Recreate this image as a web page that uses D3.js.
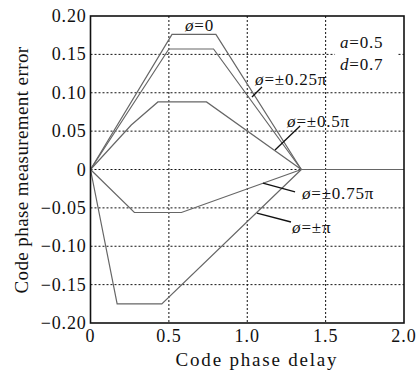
<!DOCTYPE html>
<html>
<head>
<meta charset="utf-8">
<script src="https://cdn.jsdelivr.net/npm/d3@7"></script>
<style>
  body { margin: 0; background: #fff; }
  text { font-family: "Liberation Serif", "DejaVu Serif", serif; fill: #111; }
</style>
</head>
<body>
<svg id="chart" width="420" height="372"></svg>
<script>
// tick values
var x_ticks = [0, 0.5, 1.0, 1.5, 2.0]
var x_tick_labels = ["0", "0.5", "1.0", "1.5", "2.0"]
var y_ticks = [-0.20, -0.15, -0.10, -0.05, 0, 0.05, 0.10, 0.15, 0.20]
var y_tick_labels = ["\u22120.20", "\u22120.15", "\u22120.10", "\u22120.05", "0", "0.05", "0.10", "0.15", "0.20"]

// curves (code phase delay -> error)
var phi0_x = [0, 0.52, 0.80, 1.345]
var phi0_y = [0, 0.176, 0.176, 0]
var phi025_x = [0, 0.50, 0.785, 1.345]
var phi025_y = [0, 0.157, 0.157, 0]
var phi05_x = [0, 0.26, 0.43, 0.74, 1.345]
var phi05_y = [0, 0.058, 0.088, 0.088, 0]
var phi075_x = [0, 0.28, 0.58, 1.345]
var phi075_y = [0, -0.056, -0.056, 0]
var phipi_x = [0, 0.17, 0.455, 1.345]
var phipi_y = [0, -0.175, -0.175, 0]
var tail_x = [1.345, 2.0]
var tail_y = [0, 0]

var series = [
    [phi0_x, phi0_y], [phi025_x, phi025_y], [phi05_x, phi05_y],
    [phi075_x, phi075_y], [phipi_x, phipi_y], [tail_x, tail_y]
]

// labels: text, position, leader start/end (data units)
var label_text = ["0", "\u00b10.25\u03c0", "\u00b10.5\u03c0", "\u00b10.75\u03c0", "\u00b1\u03c0"]
var label_pos = [[0.603, 0.181], [1.05, 0.110], [1.254, 0.0554], [1.349, -0.0384], [1.286, -0.0827]]
var leaders = [null,
    [[1.030, 0.0945], [1.094, 0.1075]],
    [[1.177, 0.0254], [1.337, 0.0567]],
    [[1.100, -0.0176], [1.305, -0.0293]],
    [[1.062, -0.0567], [1.279, -0.0684]]]

var svg = d3.select("#chart")
var p_left = 90.5, p_right = 404, p_top = 16, p_bottom = 323

var xScale = d3.scaleLinear().domain([0, 2]).range([p_left, p_right])
var yScale = d3.scaleLinear().domain([-0.2, 0.2]).range([p_bottom, p_top])

// grid
var grid = svg.append("g")
grid.selectAll(".gx").data(x_ticks.slice(1, -1)).enter().append("line")
    .attr("x1", d => xScale(d)).attr("x2", d => xScale(d))
    .attr("y1", p_top).attr("y2", p_bottom)
    .attr("stroke", "#111").attr("stroke-width", 1).attr("stroke-dasharray", "2,2")
grid.selectAll(".gy").data(y_ticks.slice(1, -1)).enter().append("line")
    .attr("x1", p_left).attr("x2", p_right)
    .attr("y1", d => yScale(d)).attr("y2", d => yScale(d))
    .attr("stroke", "#111").attr("stroke-width", 1).attr("stroke-dasharray", "2,2")

// white box behind the parameter note
svg.append("rect")
    .attr("x", xScale(1.56)).attr("y", yScale(0.174))
    .attr("width", xScale(1.96) - xScale(1.56)).attr("height", yScale(0.124) - yScale(0.174))
    .attr("fill", "#fff")

// curves
var line = d3.line().x(d => xScale(d[0])).y(d => yScale(d[1]))
for (var i = 0; i < series.length; i++) {
    var pts = series[i][0].map((x, j) => [x, series[i][1][j]])
    svg.append("path")
        .attr("d", line(pts))
        .attr("fill", "none")
        .attr("stroke", "#666")
        .attr("stroke-width", 1.2)
}

// frame
svg.append("rect")
    .attr("x", p_left).attr("y", p_top)
    .attr("width", p_right - p_left).attr("height", p_bottom - p_top)
    .attr("fill", "none").attr("stroke", "#111").attr("stroke-width", 1.6)

// tick labels
svg.selectAll(".xt").data(x_ticks).enter().append("text")
    .attr("x", d => xScale(d)).attr("y", p_bottom + 19)
    .attr("text-anchor", "middle")
    .style("font-size", "18px").style("letter-spacing", "1px")
    .text((d, i) => x_tick_labels[i])
svg.selectAll(".yt").data(y_ticks).enter().append("text")
    .attr("x", p_left - 4).attr("y", d => yScale(d) + 6)
    .attr("text-anchor", "end")
    .style("font-size", "18px").style("letter-spacing", "0.8px")
    .text((d, i) => y_tick_labels[i])

// axis titles
svg.append("text")
    .attr("x", 257).attr("y", 366)
    .attr("text-anchor", "middle")
    .style("font-size", "19px").style("letter-spacing", "1.8px")
    .text("Code phase delay")
svg.append("text")
    .attr("transform", "translate(28,170) rotate(-90)")
    .attr("text-anchor", "middle")
    .style("font-size", "19px").style("letter-spacing", "0.4px")
    .text("Code phase measurement error")

// curve labels
for (var i = 0; i < label_text.length; i++) {
    var t = svg.append("text")
        .attr("x", xScale(label_pos[i][0])).attr("y", yScale(label_pos[i][1]))
        .style("font-size", "17px").style("letter-spacing", "0.8px")
    t.append("tspan").style("font-style", "italic").text("\u00f8")
    t.append("tspan").text("=" + label_text[i])
    if (leaders[i]) {
        svg.append("line")
            .attr("x1", xScale(leaders[i][0][0])).attr("y1", yScale(leaders[i][0][1]))
            .attr("x2", xScale(leaders[i][1][0])).attr("y2", yScale(leaders[i][1][1]))
            .attr("stroke", "#111").attr("stroke-width", 1.3)
    }
}

// parameter note
var note = [["a", "0.5", 0.158], ["d", "0.7", 0.130]]
note.forEach(function(n) {
    var t = svg.append("text")
        .attr("x", xScale(1.592)).attr("y", yScale(n[2]))
        .style("font-size", "17px").style("letter-spacing", "0.8px")
    t.append("tspan").style("font-style", "italic").text(n[0])
    t.append("tspan").text("=" + n[1])
})
</script>
</body>
</html>
